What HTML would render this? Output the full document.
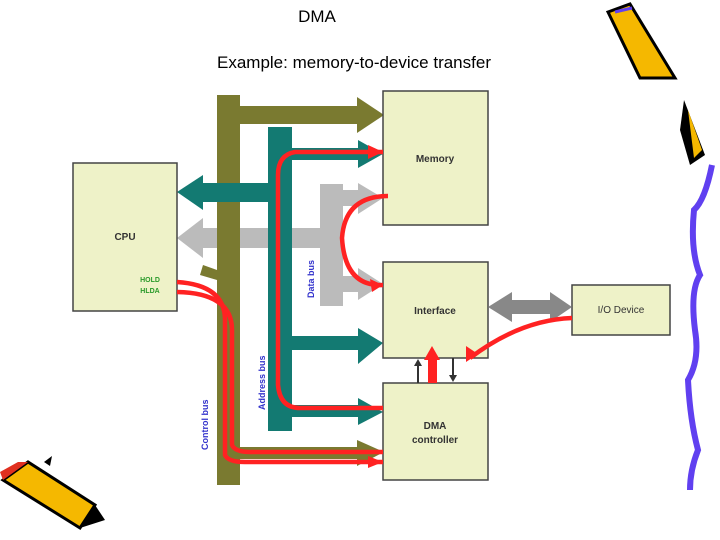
<!DOCTYPE html>
<html><head><style>
body{margin:0;background:#fff;}
svg{display:block}
</style></head><body>
<svg width="720" height="540" viewBox="0 0 720 540" xmlns="http://www.w3.org/2000/svg" font-family="Liberation Sans, sans-serif">
<rect width="720" height="540" fill="#fff"/>
<text x="317" y="22" font-size="17" text-anchor="middle">DMA</text>
<text x="354" y="68" font-size="17" text-anchor="middle">Example: memory-to-device transfer</text>

<!-- gray data bus -->
<rect x="320" y="184" width="23" height="122" fill="#bbb"/>
<rect x="200" y="228" width="125" height="20" fill="#bbb"/>
<polygon points="177,238 203,218 203,258" fill="#bbb"/>
<rect x="340" y="190" width="25" height="16" fill="#bbb"/>
<polygon points="383,198 358,183 358,214" fill="#bbb"/>
<rect x="340" y="276" width="25" height="16" fill="#bbb"/>
<polygon points="383,284 358,268 358,300" fill="#bbb"/>

<!-- olive control bus -->
<rect x="217" y="95" width="23" height="390" fill="#7a7a30"/>
<rect x="238" y="106" width="122" height="18" fill="#7a7a30"/>
<polygon points="384,115 357,97 357,133" fill="#7a7a30"/>
<rect x="238" y="447" width="122" height="12" fill="#7a7a30"/>
<polygon points="384,452 357,440 357,466" fill="#7a7a30"/>
<polygon points="200,275 203,265 217,270 217,280" fill="#7a7a30"/>

<!-- teal address bus -->
<rect x="268" y="127" width="24" height="304" fill="#137a72"/>
<rect x="200" y="183" width="70" height="19" fill="#137a72"/>
<polygon points="177,192 203,175 203,210" fill="#137a72"/>
<rect x="290" y="148" width="70" height="12" fill="#137a72"/>
<polygon points="383,154 358,140 358,168" fill="#137a72"/>
<rect x="290" y="336" width="70" height="14" fill="#137a72"/>
<polygon points="383,343 358,328 358,364" fill="#137a72"/>
<rect x="290" y="405" width="70" height="12" fill="#137a72"/>
<polygon points="383,412 358,398 358,425" fill="#137a72"/>

<!-- boxes -->
<g fill="#eef2c8" stroke="#444" stroke-width="1.5">
<rect x="73" y="163" width="104" height="148"/>
<rect x="383" y="91" width="105" height="134"/>
<rect x="383" y="262" width="105" height="96"/>
<rect x="383" y="383" width="105" height="97"/>
<rect x="572" y="285" width="98" height="50"/>
</g>
<g font-size="10" fill="#333" text-anchor="middle" font-weight="bold">
<text x="125" y="240">CPU</text>
<text x="435" y="162">Memory</text>
<text x="435" y="314">Interface</text>
<text x="435" y="429">DMA</text>
<text x="435" y="443">controller</text>
<text x="621" y="313" font-weight="normal">I/O Device</text>
</g>
<text x="150" y="282" font-size="7" fill="#2a9a2a" text-anchor="middle" font-weight="bold">HOLD</text>
<text x="150" y="293" font-size="7" fill="#2a9a2a" text-anchor="middle" font-weight="bold">HLDA</text>

<!-- I/O arrow gray -->
<rect x="510" y="300" width="45" height="14" fill="#888"/>
<polygon points="488,307 512,292 512,322" fill="#888"/>
<polygon points="572,307 550,292 550,322" fill="#888"/>

<!-- small arrows between interface and DMA -->
<line x1="418" y1="383" x2="418" y2="364" stroke="#333" stroke-width="2"/>
<polygon points="418,359 414,366 422,366" fill="#333"/>
<line x1="453" y1="358" x2="453" y2="377" stroke="#333" stroke-width="2"/>
<polygon points="453,382 449,375 457,375" fill="#333"/>

<!-- red paths -->
<g fill="none" stroke="#f22" stroke-width="4.5">
<path d="M383,152 L295,152 Q278,155 278,175 L278,385 Q280,408 300,408 L383,408"/>
<path d="M388,196 Q345,196 342,238 Q345,287 383,285"/>
<path d="M177,282 Q225,285 225,320 L225,455 Q228,462 245,462 L383,462"/>
<path d="M177,292 Q232,293 232,330 L232,445 Q235,452 250,452 L383,452"/>
<path d="M572,318 Q520,320 470,358"/>
</g>
<rect x="428" y="358" width="9" height="25" fill="#f22"/>
<polygon points="432,346 424,360 440,360" fill="#f22"/>
<polygon points="383,152 368,145 368,159" fill="#f22"/>
<polygon points="383,462 368,456 368,468" fill="#f22"/>
<polygon points="383,285 370,279 372,292" fill="#f22"/>
<polygon points="466,362 466,346 478,354" fill="#f22"/>

<g font-size="9" fill="#33c" font-weight="bold">
<text transform="translate(314,298) rotate(-90)">Data bus</text>
<text transform="translate(265,410) rotate(-90)">Address bus</text>
<text transform="translate(208,450) rotate(-90)">Control bus</text>
</g>

<!-- pencil top right -->
<polygon points="608,12 630,4 675,78 640,78" fill="#f5b800" stroke="#000" stroke-width="3"/>
<line x1="615" y1="12" x2="632" y2="8" stroke="#6040f0" stroke-width="3"/>
<polygon points="684,100 705,155 690,165 680,130" fill="#000"/>
<polygon points="688,110 702,150 694,158" fill="#f5b800"/>
<!-- wavy line -->
<path d="M712,165 Q705,200 694,210 Q690,250 700,275 Q690,290 695,330 Q700,360 688,380 Q690,420 698,450 Q690,470 690,490" fill="none" stroke="#6040f0" stroke-width="6"/>
<!-- pencil bottom left -->
<polygon points="3,480 28,462 95,505 80,528" fill="#f5b800" stroke="#000" stroke-width="3"/>
<polygon points="80,528 95,505 105,520" fill="#000"/>
<polygon points="3,480 28,462 18,462 0,472" fill="#e03020"/>
<polygon points="44,462 52,456 50,466" fill="#000"/>
</svg>
</body></html>
